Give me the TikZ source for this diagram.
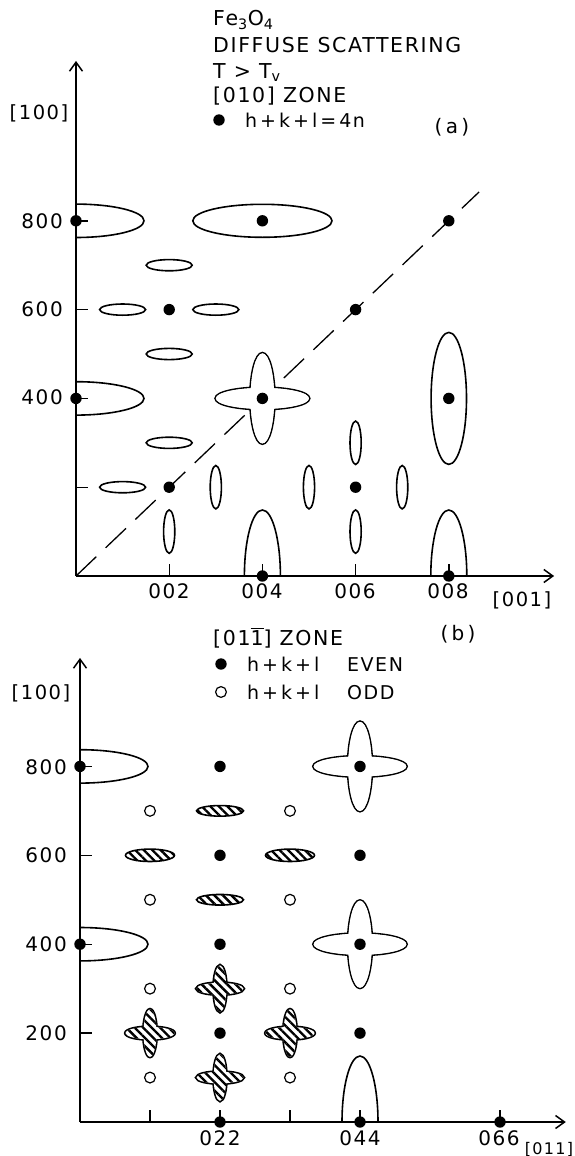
\documentclass[tikz,border=0pt]{standalone}
\usepackage{fontspec}
\setmainfont{DejaVu Sans}[LetterSpace=8]
\usetikzlibrary{arrows.meta,patterns.meta}

\newcommand\fsz[1]{\fontsize{#1}{#1}\selectfont}
\newcommand\barred[1]{\ensuremath{\overline{\mbox{#1}}}}

% lobe shapes (current scope units)
\newcommand\sidelobe[1]{\draw[spot] ([yshift=16.7pt]#1) arc[start angle=90,end angle=-90,x radius=68pt,y radius=16.7pt];}
\newcommand\footlobe[1]{\draw[spot] ([xshift=-18pt]#1) arc[start angle=180,end angle=0,x radius=18pt,y radius=66pt];}
\newcommand\hstreak[2][]{\draw[spot,#1] (#2) ellipse[x radius=23pt,y radius=5.6pt];}
\newcommand\vstreak[2][]{\draw[spot,#1] (#2) ellipse[x radius=5.6pt,y radius=21.7pt];}
% four-lobed star: union of a flat and an upright ellipse
\newcommand\starlobe[6][white]{%
  \draw[line width=3.2pt] (#2) ellipse[x radius=#3,y radius=#4] (#2) ellipse[x radius=#5,y radius=#6];
  \fill[white] (#2) ellipse[x radius=#3,y radius=#4] (#2) ellipse[x radius=#5,y radius=#6];
  \fill[#1] (#2) ellipse[x radius=#3,y radius=#4] (#2) ellipse[x radius=#5,y radius=#6];}

\begin{document}
\begin{tikzpicture}[x=1pt,y=-1pt,
  axis/.style={line width=1.5pt,-{Straight Barb[length=9pt,width=13pt,line width=1.5pt]}},
  spot/.style={line width=1.6pt},
  tickline/.style={line width=1.4pt},
  guide/.style={line width=1.3pt,dash pattern=on 28pt off 13pt},
  spotdot/.style={circle,fill=black,inner sep=0pt,minimum size=11.4pt},
  opendot/.style={circle,draw=black,line width=1.2pt,fill=white,inner sep=0pt,minimum size=10.8pt},
  hatch/.style={pattern={Lines[angle=-45,distance=6pt,line width=2.4pt]}},
  txt/.style={inner sep=0pt,font=\fsz{20.5}},
  num/.style={inner sep=0pt,font=\fsz{20}},
  key/.style={inner sep=0pt,font=\fsz{19},anchor=base west},
  tag/.style={inner sep=0pt,font=\fsz{20}},
  hkl/.style={inner sep=0pt,font=\fsz{19.5}}]
\useasboundingbox (0,0) rectangle (574,1156);

% ================= panel (a): [010] zone =================
\begin{scope}[shift={(76,576)},x=46.6pt,y=44.4pt]
  \coordinate (aO) at (0,0);
  \coordinate (aYtip) at (0,11.6);
  \coordinate (aXtip) at (10.26,0);
  \coordinate (aDiag) at (8.65,8.65);
  \draw[guide] (aO) -- (aDiag);
  \draw[axis] (aO) -- (aYtip);
  \draw[axis] (aO) -- (aXtip);
  \foreach \h in {2,4,6,8} \draw[tickline] (0,\h) -- ++(12pt,0);
  \foreach \l in {2,4,6,8} \draw[tickline] (\l,0) -- ++(0,12pt);
  \sidelobe{0,8}
  \sidelobe{0,4}
  \draw[spot] (4,8) ellipse[x radius=69.6pt,y radius=16.5pt];
  \hstreak{2,7}
  \hstreak{1,6}
  \hstreak{3,6}
  \hstreak{2,5}
  \hstreak{2,3}
  \hstreak{1,2}
  \vstreak{2,1}
  \vstreak{3,2}
  \vstreak{5,2}
  \vstreak{7,2}
  \vstreak{6,3}
  \vstreak{6,1}
  \starlobe{4,4}{46.5pt}{10.5pt}{11.8pt}{45pt}
  \draw[spot] (8,4) ellipse[x radius=17.7pt,y radius=66pt];
  \footlobe{4,0}
  \footlobe{8,0}
  \foreach \l/\h in {0/8,4/8,8/8,2/6,6/6,0/4,4/4,8/4,2/2,6/2,4/0,8/0}
    \node[spotdot] (a-\l-\h) at (\l,\h) {};
\end{scope}

% headings of panel (a)
\node[txt,anchor=base west] (title) at (213,26) {Fe\textsubscript{3}O\textsubscript{4}};
\node[txt,anchor=base west] (kind) at (213,52.3) {DIFFUSE SCATTERING};
\node[txt,anchor=base west] (temp) at (213,78.3) {T > T\textsubscript{v}};
\node[txt,anchor=base west] (zoneA) at (213,102.5) {[010] ZONE};
\node[spotdot] (keyA) at (219,120) {};
\node[key] (keyAtext) at (245,127) {h\kern3pt+\kern3pt k\kern3pt+\kern3pt l\kern3pt=\kern3pt 4n};
\node[tag] (tagA) at (452,127) {(\,a\,)};
\node[hkl] (aYlab) at (39,113) {[100]};
\node[hkl] (aXlab) at (522,600) {[001]};
\foreach \v/\y in {800/221,600/309,400/397}
  \node[num,anchor=east] (aY\v) at (63,\y) {\v};
\foreach \v/\x in {002/169,004/262,006/355,008/448}
  \node[num,anchor=base] (aX\v) at (\x,598) {\v};

% ================= panel (b): [01-1] zone =================
\begin{scope}[shift={(80,1122)},x=70pt,y=44.45pt]
  \coordinate (bO) at (0,0);
  \coordinate (bYtip) at (0,10.44);
  \coordinate (bXtip) at (6.94,0);
  \draw[axis] (bO) -- (bYtip);
  \draw[axis] (bO) -- (bXtip);
  \foreach \h in {2,4,6,8} \draw[tickline] (0,\h) -- ++(12pt,0);
  \foreach \k in {1,2,3,4,6} \draw[tickline] (\k,0) -- ++(0,12pt);
  \sidelobe{0,8}
  \sidelobe{0,4}
  \footlobe{4,0}
  \starlobe{4,8}{46.3pt}{10pt}{11.7pt}{44.5pt}
  \starlobe{4,4}{46.3pt}{10.5pt}{11.7pt}{43.5pt}
  \draw[spot,hatch] (2,7) ellipse[x radius=23.5pt,y radius=5.3pt];
  \draw[spot,hatch] (1,6) ellipse[x radius=24.5pt,y radius=6.2pt];
  \draw[spot,hatch] (3,6) ellipse[x radius=24.5pt,y radius=6.2pt];
  \draw[spot,hatch] (2,5) ellipse[x radius=23.5pt,y radius=5.3pt];
  \starlobe[hatch]{2,3}{23.5pt}{5.8pt}{6.3pt}{23.3pt}
  \starlobe[hatch]{1,2}{24.5pt}{6.2pt}{6.5pt}{23.7pt}
  \starlobe[hatch]{3,2}{24.5pt}{6.2pt}{6.5pt}{23.7pt}
  \starlobe[hatch]{2,1}{23.5pt}{5.8pt}{6.3pt}{23.3pt}
  \foreach \k/\h in {1/7,3/7,1/5,3/5,1/3,3/3,1/1,3/1}
    \node[opendot] (b-o-\k-\h) at (\k,\h) {};
  \foreach \k/\h in {0/8,2/8,4/8,2/6,4/6,0/4,2/4,4/4,2/2,4/2,2/0,4/0,6/0}
    \node[spotdot] (b-\k-\h) at (\k,\h) {};
\end{scope}

% headings of panel (b)
\node[tag] (tagB) at (458,634) {(\,b\,)};
\node[txt,anchor=base west] (zoneB) at (213,645) {[01\barred{1}] ZONE};
\node[spotdot] (keyB1) at (221,664) {};
\node[key] (keyB1text) at (247,671.5) {h\kern3pt+\kern3pt k\kern3pt+\kern3pt l};
\node[key] (keyB1word) at (347,671.5) {EVEN};
\node[opendot] (keyB2) at (221,692) {};
\node[key] (keyB2text) at (247,699) {h\kern3pt+\kern3pt k\kern3pt+\kern3pt l};
\node[key] (keyB2word) at (347,699) {ODD};
\node[hkl] (bYlab) at (41,693) {[100]};
\node[hkl,font=\fsz{16}] (bXlab) at (549,1149) {[011]};
\foreach \v/\y in {800/767,600/855,400/944,200/1033}
  \node[num,anchor=east] (bY\v) at (67,\y) {\v};
\foreach \v/\x in {022/220,044/360,066/499}
  \node[num,anchor=base] (bX\v) at (\x,1145) {\v};
\end{tikzpicture}
\end{document}
